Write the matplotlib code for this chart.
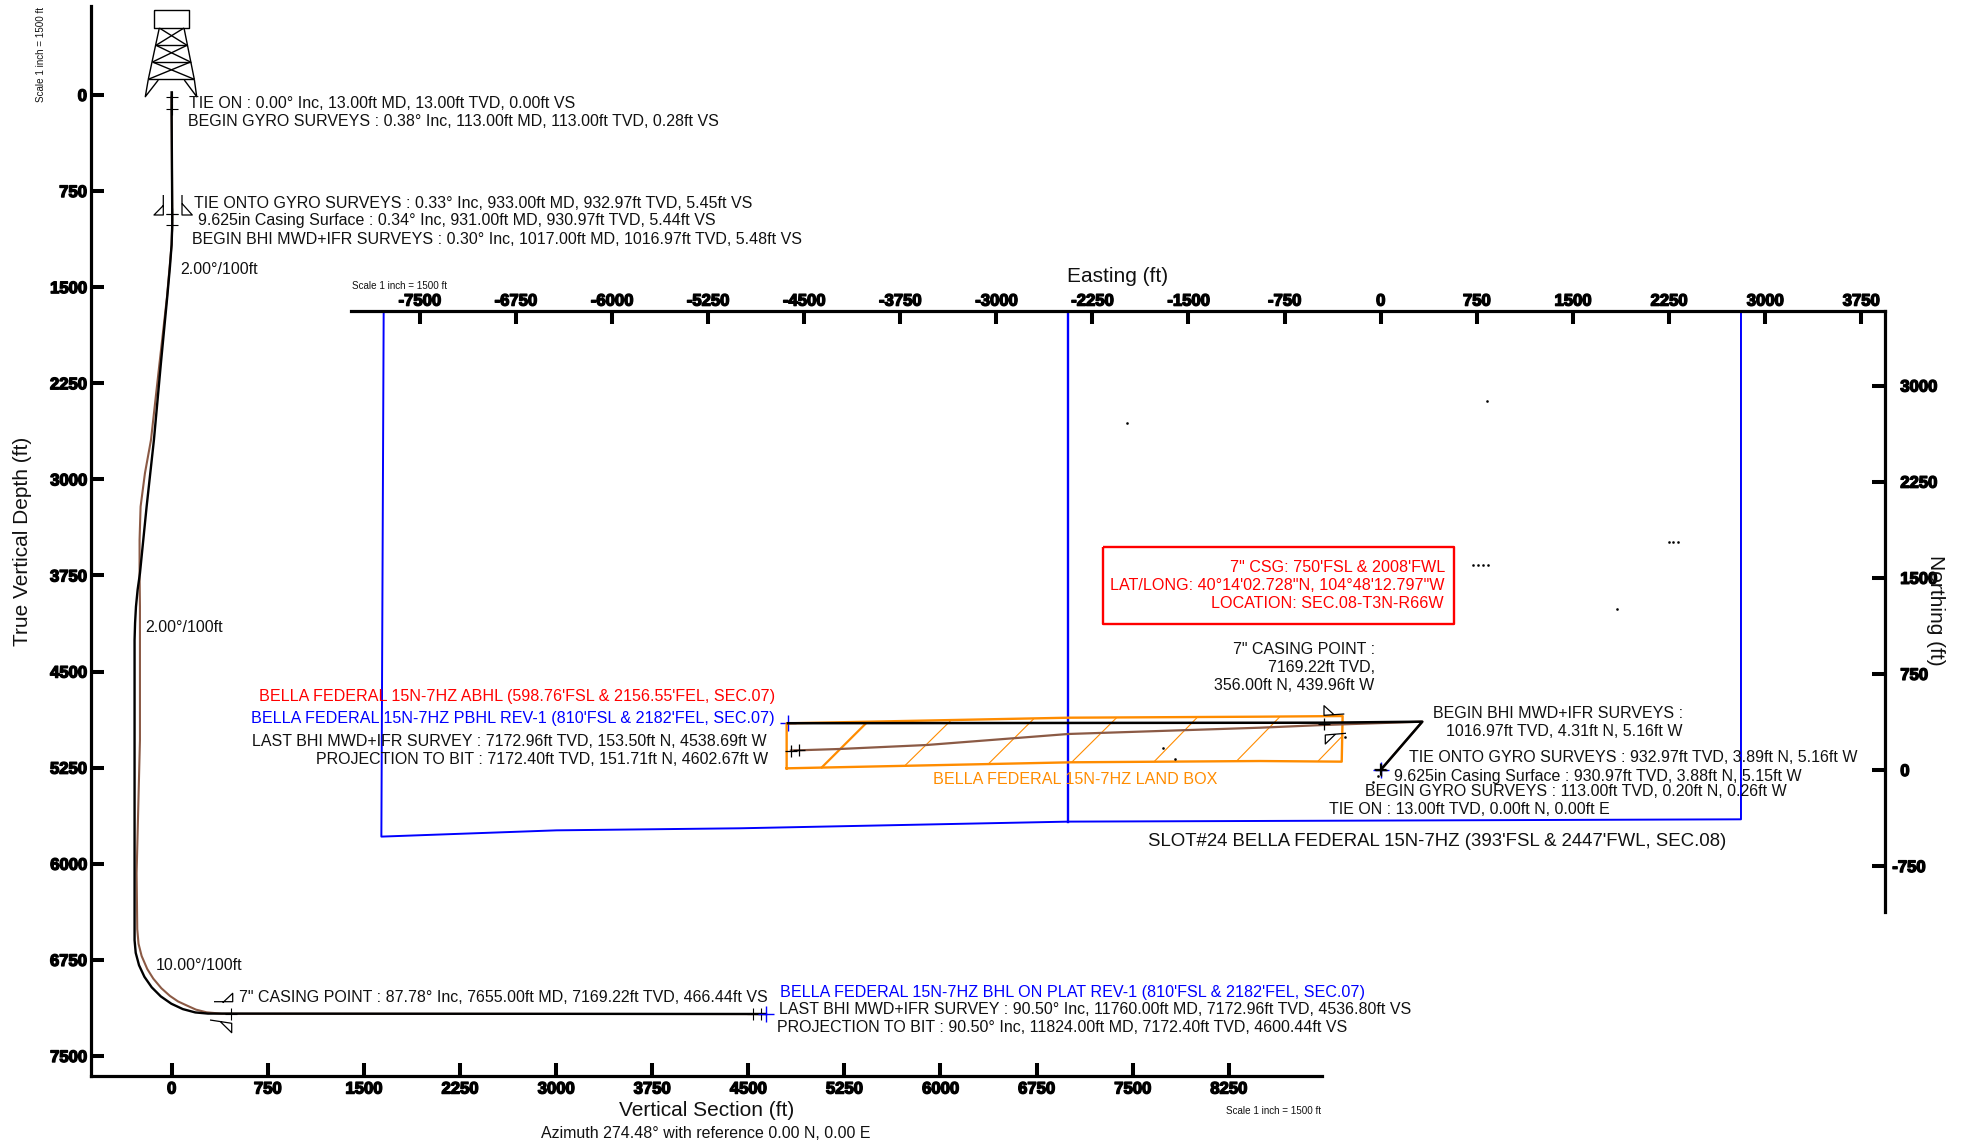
import matplotlib
matplotlib.use("Agg")
import matplotlib.pyplot as plt
import matplotlib.patheffects as pe
from matplotlib.lines import Line2D
from matplotlib.transforms import Affine2D

plt.rcParams['font.family'] = ['Liberation Sans', 'DejaVu Sans']

W, H = 1961, 1142
BROWN = '#8b5a45'
BLUE = '#0000ff'
ORANGE = '#ff8c00'
RED = '#ff0000'
INK = '#111111'

# vertical section view, feet
plan_vs = [0, 0, 5, 5, 0, -13, -34, -84, -138, -195, -247, -265, -278, -285, -289, -289, -280, -254, -212, -155, -84, -2, 88, 185, 284, 466, 4638]
plan_tvd = [-20, 113, 933, 1017, 1170, 1342, 1576, 2100, 2693, 3213, 3733, 3860, 3993, 4120, 4254, 6596, 6695, 6792, 6882, 6964, 7035, 7092, 7134, 7160, 7169, 7169, 7172]
actual_vs = [0, 0, 5, 5, 0, -36, -95, -161, -208, -242, -250, -250, -247, -247, -260, -273, -268, -258, -234, -190, -143, -80, -13, 50, 117, 190, 273, 392, 466, 4536.8, 4600.44]
actual_tvd = [13, 113, 933, 1017, 1170, 1576, 2100, 2693, 2952, 3213, 3473, 3733, 3993, 5034, 5554, 6074, 6510, 6624, 6719, 6821, 6896, 6971, 7031, 7074, 7105, 7138, 7159, 7170, 7170, 7172.96, 7172.4]
station_vs = [0, 0.28, 5.45, 5.44, 5.48, 466.44, 4536.8, 4600.44]
station_tvd = [13, 113, 932.97, 930.97, 1016.97, 7169.22, 7172.96, 7172.4]
target_vs = [4638]
target_tvd = [7172]
vs_ticks = list(range(0, 8251, 750))
tvd_ticks = list(range(0, 7501, 750))

# plan view, feet
plan_e = [0, 325, -440, -4626]
plan_n = [0, 377, 369, 365]
actual_e = [0, 325, -450, -942, -2438, -3543, -4220, -4602.67]
actual_n = [0, 377, 351, 330, 281, 195, 164, 151.71]
plan_station_e = [0, -0.26, -5.16, -439.96, -4538.69, -4602.67]
plan_station_n = [0, 0.2, 3.89, 356, 153.5, 151.71]
target_e = [0, -4626]
target_n = [0, 365]
hard_e = [-7781, -7799, -6432, -5000, -2438, 2812, 2812]
hard_n = [3579, -520, -471, -455, -403, -385, 3579]
hard_mid_e = [-2438, -2438]
hard_mid_n = [3579, -403]
land_e = [-4636, -4636, -2438, -942, -297, -304, -942, -2412, -4636]
land_n = [13, 364, 408, 416, 421, 65, 70, 60, 13]
hatch_e0 = [-4362, -3713, -3057, -2412, -1768, -1124, -485]
hatch_n0 = [20, 34, 52, 60, 65, 70, 73]
hatch_e1 = [-4017, -3361, -2711, -2061, -1431, -791, -304]
hatch_n1 = [364, 380, 396, 408, 411, 411, 260]
speck_e = [-1981, 830, 2250, 2284, 2320, 723, 762, 801, 840, 1844, -1697, -1608, -279, -19, -57]
speck_n = [2710, 2877, 1783, 1783, 1783, 1600, 1600, 1600, 1600, 1256, 174, 88, 255, -47, -91]
easting_ticks = list(range(-7500, 3751, 750))
northing_ticks = list(range(-750, 3001, 750))

fig = plt.figure(figsize=(W / 100, H / 100), dpi=100, facecolor='white')

# overlay coordinates are pixels, y down, same as the picture
px = Affine2D().scale(1, -1).translate(0, H)


def note(x, y, s, color=INK, size=11.55, ha='left', **kw):
    fig.text(x, y + 1, s, transform=px, color=color, fontsize=size, ha=ha, va='center', **kw)


def sketch(xs, ys, lw=1.0, color='black'):
    fig.add_artist(Line2D(xs, ys, transform=px, color=color, lw=lw, solid_capstyle='butt'))


def make_axes(left, top, right, bottom):
    ax = fig.add_axes([left / W, 1 - bottom / H, (right - left) / W, (bottom - top) / H])
    ax.patch.set_alpha(0)
    return ax


def style_ticks(ax, axis, labels_pad):
    ax.tick_params(axis=axis, direction='in', length=9.6, width=2.9, pad=labels_pad, labelsize=12)
    ticks = ax.get_xticklabels() if axis == 'x' else ax.get_yticklabels()
    for t in ticks:
        t.set_fontweight('bold')
        t.set_color('black')
        t.set_path_effects([pe.withStroke(linewidth=1.0, foreground='black')])


# ---- vertical section ----
ax = make_axes(91, 6, 1322, 1076)
ax.set_xlim(-629, 8978)
ax.set_ylim(7656, -694)
for side in ['top', 'right']:
    ax.spines[side].set_visible(False)
for side in ['left', 'bottom']:
    ax.spines[side].set_linewidth(2.3)
ax.set_xticks(vs_ticks)
ax.set_yticks(tvd_ticks)
style_ticks(ax, 'x', 4)
style_ticks(ax, 'y', 3)
ax.plot(actual_vs, actual_tvd, color=BROWN, lw=1.5)
ax.plot(plan_vs, plan_tvd, color='black', lw=1.7)
ax.plot(station_vs, station_tvd, ls='none', marker='+', ms=9, mew=0.8, color='black')
ax.plot(target_vs, target_tvd, ls='none', marker='+', ms=11, mew=1.0, color=BLUE)

# ---- plan view ----
ax2 = make_axes(351, 311.4, 1885, 911.7)
ax2.set_xlim(-8036, 3936)
ax2.set_ylim(-1106, 3579)
for side in ['left', 'bottom']:
    ax2.spines[side].set_visible(False)
for side in ['top', 'right']:
    ax2.spines[side].set_linewidth(2.3)
ax2.xaxis.tick_top()
ax2.yaxis.tick_right()
ax2.set_xticks(easting_ticks)
ax2.set_yticks(northing_ticks)
style_ticks(ax2, 'x', 2)
style_ticks(ax2, 'y', 11)
for t in ax2.get_yticklabels():
    if t.get_text().startswith(('-', '\u2212')):
        t.set_transform(t.get_transform() + Affine2D().translate(-8, 0))
ax2.set_xticklabels([str(v) for v in easting_ticks])
ax2.set_yticklabels([str(v) for v in northing_ticks])
ax2.plot(hard_e, hard_n, color=BLUE, lw=1.4)
ax2.plot(hard_mid_e, hard_mid_n, color=BLUE, lw=1.7)
ax2.plot(land_e, land_n, color=ORANGE, lw=1.7)
for i in range(len(hatch_e0)):
    ax2.plot([hatch_e0[i], hatch_e1[i]], [hatch_n0[i], hatch_n1[i]], color=ORANGE, lw=1.6 if i == 0 else 0.8)
ax2.plot(actual_e, actual_n, color=BROWN, lw=1.6)
ax2.plot(plan_e, plan_n, color='black', lw=1.8)
ax2.plot(plan_station_e, plan_station_n, ls='none', marker='+', ms=9, mew=0.9, color='black')
ax2.plot(target_e, target_n, ls='none', marker='+', ms=11, mew=1.0, color=BLUE, zorder=1)
ax2.plot(speck_e, speck_n, ls='none', marker='s', ms=0.8, color='black')

# axis titles and scale notes
note(707, 1110, 'Vertical Section (ft)', size=15, ha='center')
note(706, 1132, 'Azimuth 274.48\u00b0 with reference 0.00 N, 0.00 E', size=11.55, ha='center')
note(1118, 275, 'Easting (ft)', size=15, ha='center')
fig.text(23, 541, 'True Vertical Depth (ft)', transform=px, fontsize=15, rotation=90, ha='center', va='center', color=INK)
fig.text(1936, 610, 'Northing (ft)', transform=px, fontsize=15, rotation=270, ha='center', va='center', color=INK)
fig.text(41, 55, 'Scale 1 inch = 1500 ft', transform=px, fontsize=7.1, rotation=90, ha='center', va='center', color=INK)
note(352, 285, 'Scale 1 inch = 1500 ft', size=7.1)
note(1226, 1110, 'Scale 1 inch = 1500 ft', size=7.1)

# section annotations
note(189, 103, 'TIE ON : 0.00\u00b0 Inc, 13.00ft MD, 13.00ft TVD, 0.00ft VS')
note(188, 121, 'BEGIN GYRO SURVEYS : 0.38\u00b0 Inc, 113.00ft MD, 113.00ft TVD, 0.28ft VS')
note(194, 203, 'TIE ONTO GYRO SURVEYS : 0.33\u00b0 Inc, 933.00ft MD, 932.97ft TVD, 5.45ft VS')
note(198, 220, '9.625in Casing Surface : 0.34\u00b0 Inc, 931.00ft MD, 930.97ft TVD, 5.44ft VS')
note(192, 238, 'BEGIN BHI MWD+IFR SURVEYS : 0.30\u00b0 Inc, 1017.00ft MD, 1016.97ft TVD, 5.48ft VS')
note(180, 269, '2.00\u00b0/100ft')
note(145, 627, '2.00\u00b0/100ft')
note(156, 965, '10.00\u00b0/100ft')
note(239, 997, '7" CASING POINT : 87.78\u00b0 Inc, 7655.00ft MD, 7169.22ft TVD, 466.44ft VS')
note(780, 992, "BELLA FEDERAL 15N-7HZ BHL ON PLAT REV-1 (810'FSL & 2182'FEL, SEC.07)", color=BLUE, size=11.6)
note(779, 1009, 'LAST BHI MWD+IFR SURVEY : 90.50\u00b0 Inc, 11760.00ft MD, 7172.96ft TVD, 4536.80ft VS')
note(777, 1026, 'PROJECTION TO BIT : 90.50\u00b0 Inc, 11824.00ft MD, 7172.40ft TVD, 4600.44ft VS')

# plan annotations
note(775, 696, "BELLA FEDERAL 15N-7HZ ABHL (598.76'FSL & 2156.55'FEL, SEC.07)", color=RED, ha='right', size=11.6)
note(775, 718, "BELLA FEDERAL 15N-7HZ PBHL REV-1 (810'FSL & 2182'FEL, SEC.07)", color=BLUE, ha='right', size=11.6)
note(767, 741, 'LAST BHI MWD+IFR SURVEY : 7172.96ft TVD, 153.50ft N, 4538.69ft W', ha='right')
note(768, 759, 'PROJECTION TO BIT : 7172.40ft TVD, 151.71ft N, 4602.67ft W', ha='right')
note(933, 779, 'BELLA FEDERAL 15N-7HZ LAND BOX', color=ORANGE, size=11.6)
note(1445, 566, '7" CSG: 750\'FSL & 2008\'FWL', color=RED, ha='right', size=11.6)
note(1444, 585, 'LAT/LONG: 40\u00b014\'02.728"N, 104\u00b048\'12.797"W', color=RED, ha='right', size=11.6)
note(1444, 603, 'LOCATION: SEC.08-T3N-R66W', color=RED, ha='right', size=11.6)
note(1375, 649, '7" CASING POINT :', ha='right')
note(1375, 667, '7169.22ft TVD,', ha='right')
note(1374, 684, '356.00ft N, 439.96ft W', ha='right')
note(1433, 713, 'BEGIN BHI MWD+IFR SURVEYS :')
note(1682, 730, '1016.97ft TVD, 4.31ft N, 5.16ft W', ha='right')
note(1409, 757, 'TIE ONTO GYRO SURVEYS : 932.97ft TVD, 3.89ft N, 5.16ft W')
note(1394, 775, '9.625in Casing Surface : 930.97ft TVD, 3.88ft N, 5.15ft W')
note(1365, 791, 'BEGIN GYRO SURVEYS : 113.00ft TVD, 0.20ft N, 0.26ft W')
note(1329, 809, 'TIE ON : 13.00ft TVD, 0.00ft N, 0.00ft E')
note(1148, 840, "SLOT#24 BELLA FEDERAL 15N-7HZ (393'FSL & 2447'FWL, SEC.08)", size=13.4)

# red box
sketch([1103, 1454, 1454, 1103, 1103], [547, 547, 624, 624, 547], lw=1.7, color=RED)

# derrick on the surface location
sketch([154, 188.7, 188.7, 154, 154], [10.3, 10.3, 28, 28, 10.3], lw=1.0)
sketch([159.3, 148.3], [28, 79.3])
sketch([184, 194.3], [28, 79.3])
sketch([156, 187], [45.3, 45.3])
sketch([152.5, 190.5], [62, 62])
sketch([148.3, 194.3], [79.3, 79.3])
sketch([159.3, 187], [28, 45.3])
sketch([184, 156], [28, 45.3])
sketch([156, 190.5], [45.3, 62])
sketch([187, 152.5], [45.3, 62])
sketch([152.5, 194.3], [62, 79.3])
sketch([190.5, 148.3], [62, 79.3])
sketch([148.3, 145.3, 158.3], [79.3, 96.7, 80])
sketch([184.3, 196.7, 194.3], [80, 96.7, 79.3])

# casing shoes
sketch([163.3, 163.3, 154, 163.3], [195, 215, 215, 205.5], lw=0.9)
sketch([182, 182, 192.3, 182], [195, 215, 215, 203.5], lw=0.9)
sketch([214, 232.7, 232.7, 222.7], [1001.7, 1001.7, 993.3, 1002.7], lw=0.9)
sketch([210, 231.7, 231.7, 220.7], [1020, 1023.3, 1032.7, 1022], lw=0.9)
sketch([1344.3, 1324, 1324, 1334], [714, 715.3, 705.7, 714.7], lw=0.9)
sketch([1346, 1325.3, 1325.3, 1335.3], [733.3, 735, 744, 734.3], lw=0.9)

fig.savefig('out.png', dpi=100)
